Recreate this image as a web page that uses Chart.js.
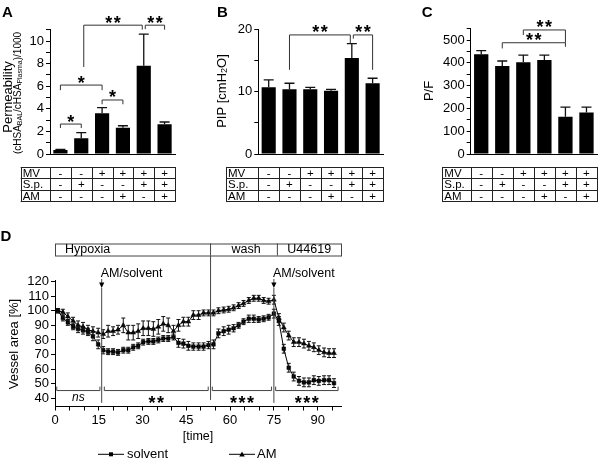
<!DOCTYPE html>
<html>
<head>
<meta charset="utf-8">
<title>Figure</title>
<script src="https://cdn.jsdelivr.net/npm/chart.js@4.4.1/dist/chart.umd.min.js"></script>
<style>
  body { margin: 0; background: #fff; }
  #fig { position: relative; width: 600px; height: 462px; overflow: hidden; }
  #fig canvas { position: absolute; }
</style>
</head>
<body>
<div id="fig">
  <canvas id="panelA" width="200" height="210" style="left:0;top:0"></canvas>
  <canvas id="panelB" width="200" height="210" style="left:200px;top:0"></canvas>
  <canvas id="panelC" width="200" height="210" style="left:400px;top:0"></canvas>
  <canvas id="panelD" width="600" height="237" style="left:0;top:225px"></canvas>
</div>
<script>
const FONT = "'Liberation Sans', Arial, Helvetica, sans-serif";
Chart.defaults.font.family = FONT;
Chart.defaults.color = '#000';

// Panels A-C: six treatment groups, table rows under the bars
const groups = ['G1', 'G2', 'G3', 'G4', 'G5', 'G6'];
const rowMV = ['-', '-', '+', '+', '+', '+'];
const rowSp = ['-', '+', '-', '-', '+', '+'];
const rowAM = ['-', '-', '-', '+', '-', '+'];

// A: permeability
const permMean = [0.35, 1.4, 3.6, 2.33, 7.8, 2.63];
const permErr = [0.06, 0.5, 0.5, 0.17, 2.8, 0.2];
const permTicks = [0, 2, 4, 6, 8, 10];

// B: PIP
const pipMean = [10.7, 10.4, 10.4, 10.15, 15.4, 11.35];
const pipErr = [1.2, 0.95, 0.3, 0.2, 2.3, 0.8];
const pipTicks = [0, 10, 20];

// C: P/F
const pfMean = [437, 386, 402, 412, 163, 182];
const pfErr = [16, 22, 32, 22, 43, 24];
const pfTicks = [0, 100, 200, 300, 400, 500];

// D: vessel area over time
const timePts = [1.0, 2.7, 4.4, 6.2, 7.9, 9.6, 11.3, 13.0, 14.8, 16.5,
  18.2, 19.9, 21.6, 23.4, 25.1, 26.8, 28.5, 30.2, 32.0, 33.7,
  35.4, 37.1, 38.8, 40.6, 42.3, 44.0, 45.7, 47.4, 49.2, 50.9,
  52.6, 54.3, 56.0, 57.8, 59.5, 61.2, 62.9, 64.6, 66.4, 68.1,
  69.8, 71.5, 73.2, 75.0, 76.7, 78.4, 80.1, 81.8, 83.6, 85.3,
  87.0, 88.7, 90.4, 92.2, 93.9, 95.6];
const solventMean = [100, 95, 92, 89, 87.5, 86.5, 85.5, 82.5, 77, 73,
  72, 72, 71.5, 73, 73, 75, 76, 78.5, 79, 79,
  80, 81, 81, 82, 78, 77.5, 76, 75.5, 75.5, 75.5,
  76.5, 77, 84.5, 86, 87, 88, 90, 92.5, 94.5, 94.5,
  94, 94.5, 95.5, 98, 93, 74, 61, 55, 52, 51,
  51, 52.5, 52, 52.5, 52.5, 50.5];
const solventErr = [1.5, 2, 2, 2, 2.5, 2.5, 2.5, 3, 3, 2.5,
  2, 2, 2, 2, 2, 2, 2, 2, 2, 2,
  2, 2, 2, 2, 3, 3, 3, 2.5, 2.5, 2.5,
  2.5, 3, 3, 3, 3, 2.5, 2, 2, 2.5, 2.5,
  2, 2, 2, 3, 3, 3, 3, 3, 3, 3,
  3, 3, 3, 3, 3, 3];
const amMean = [100, 99, 96, 93, 90, 89, 87, 86, 85, 84,
  86, 86, 87, 90, 85, 85, 86, 88, 88, 87.5,
  89, 91, 90, 86, 90, 92.5, 92.5, 97, 97, 98.5,
  98.5, 98.5, 100, 100.5, 101, 102, 103.5, 105, 107, 108.5,
  108.5, 107, 106.5, 107.5, 95, 88.5, 83, 78.5, 78.5, 77.5,
  76, 75, 73, 71.5, 71, 71];
const amErr = [1.5, 2, 2.5, 2.5, 3, 3, 3, 3, 3, 3,
  4, 3, 3, 5, 5, 5, 5, 5, 5, 5,
  5, 5, 5, 4, 4, 3, 3, 3, 3, 2,
  2, 2, 2, 2, 2, 2, 2, 2, 2, 2,
  2, 2, 2, 3, 3, 3, 3, 3, 3, 3,
  3, 3, 3, 3, 3, 3];
const timeTicks = [0, 15, 30, 45, 60, 75, 90];
const areaTicks = [40, 50, 60, 70, 80, 90, 100, 110, 120];

// Error bars from the dataset's errors array
const errorBarPlugin = {
  id: 'errorBars',
  afterDatasetsDraw(chart) {
    const ctx = chart.ctx;
    const y = chart.scales.y;
    chart.data.datasets.forEach((ds, di) => {
      if (!ds.errors) return;
      const meta = chart.getDatasetMeta(di);
      ctx.save();
      ctx.strokeStyle = '#111';
      ctx.lineWidth = ds.errorLineWidth || 1;
      meta.data.forEach((el, i) => {
        const raw = ds.data[i];
        const v = typeof raw === 'object' ? raw.y : raw;
        const e = ds.errors[i];
        const yTop = y.getPixelForValue(v + e);
        const yBot = ds.errorMode === 'up' ? el.y : y.getPixelForValue(v - e);
        const c = ds.capWidth / 2;
        ctx.beginPath();
        ctx.moveTo(el.x, yBot); ctx.lineTo(el.x, yTop);
        ctx.moveTo(el.x - c, yTop); ctx.lineTo(el.x + c, yTop);
        if (ds.errorMode !== 'up') { ctx.moveTo(el.x - c, yBot); ctx.lineTo(el.x + c, yBot); }
        ctx.stroke();
      });
      ctx.restore();
    });
  }
};

function stars(ctx, n, cx, cy) {
  ctx.save();
  ctx.fillStyle = '#000';
  ctx.font = 'bold 18px ' + FONT;
  ctx.textAlign = 'center';
  ctx.textBaseline = 'alphabetic';
  for (let k = 0; k < n; k++) ctx.fillText('*', cx + (k - (n - 1) / 2) * 8.5, cy + 10);
  ctx.restore();
}

function panelLetter(ctx, s, x, y) {
  ctx.save();
  ctx.fillStyle = '#000';
  ctx.font = 'bold 15px ' + FONT;
  ctx.textAlign = 'left';
  ctx.textBaseline = 'alphabetic';
  ctx.fillText(s, x, y);
  ctx.restore();
}

// rotated text made of parts (for subscripts)
function verticalText(ctx, parts, cx, cy) {
  ctx.save();
  ctx.translate(cx, cy);
  ctx.rotate(-Math.PI / 2);
  ctx.fillStyle = '#000';
  ctx.textBaseline = 'middle';
  ctx.textAlign = 'left';
  let total = 0;
  parts.forEach(p => { ctx.font = p.size + 'px ' + FONT; p.w = ctx.measureText(p.t).width; total += p.w; });
  let px = -total / 2;
  parts.forEach(p => {
    ctx.font = p.size + 'px ' + FONT;
    ctx.fillText(p.t, px, p.dy || 0);
    px += p.w;
  });
  ctx.restore();
}

function drawBracket(chart, br) {
  const { ctx, scales: { x, y } } = chart;
  const xa = x.getPixelForValue(br.a) + (br.da || 0);
  const xb = x.getPixelForValue(br.b) + (br.db || 0);
  const yl = y.getPixelForValue(br.y);
  ctx.beginPath();
  ctx.moveTo(xa, y.getPixelForValue(br.la));
  ctx.lineTo(xa, yl);
  ctx.lineTo(xb, yl);
  ctx.lineTo(xb, y.getPixelForValue(br.lb));
  ctx.stroke();
  stars(ctx, br.n, (xa + xb) / 2, yl - 6.5);
}

function drawTable(chart, left) {
  const { ctx, scales: { x } } = chart;
  const step = x.getPixelForValue(1) - x.getPixelForValue(0);
  const edges = [left, chart.chartArea.left];
  groups.forEach((g, i) => edges.push(x.getPixelForValue(i) + step / 2));
  const top = 167, rh = 11.35;
  const rows = [['MV', rowMV], ['S.p.', rowSp], ['AM', rowAM]];
  const right = edges[edges.length - 1];
  ctx.save();
  ctx.strokeStyle = '#222';
  ctx.lineWidth = 1;
  ctx.beginPath();
  for (let r = 0; r <= rows.length; r++) {
    const yy = Math.round(top + r * rh) + 0.5;
    ctx.moveTo(left, yy); ctx.lineTo(right, yy);
  }
  edges.forEach(ex => {
    const xx = Math.round(ex) + 0.5;
    ctx.moveTo(xx, top); ctx.lineTo(xx, top + rows.length * rh + 1);
  });
  ctx.stroke();
  ctx.fillStyle = '#000';
  ctx.font = '11.5px ' + FONT;
  ctx.textBaseline = 'middle';
  rows.forEach(([name, vals], r) => {
    const cy = top + (r + 0.5) * rh + 1;
    ctx.textAlign = 'left';
    ctx.fillText(name, left + 2, cy);
    ctx.textAlign = 'center';
    vals.forEach((s, i) => ctx.fillText(s, x.getPixelForValue(i), cy));
  });
  ctx.restore();
}

function makeBarPanel(canvasId, cfg) {
  const extras = {
    id: 'extras',
    afterDraw(chart) {
      const ctx = chart.ctx;
      ctx.save();
      ctx.strokeStyle = '#333';
      ctx.lineWidth = 1;
      cfg.brackets.forEach(br => drawBracket(chart, br));
      ctx.restore();
      drawTable(chart, cfg.tableLeft);
      cfg.title(ctx);
      panelLetter(ctx, cfg.letter, cfg.letterX, 16.5);
    }
  };
  return new Chart(document.getElementById(canvasId), {
    type: 'bar',
    data: {
      labels: groups,
      datasets: [{
        data: cfg.mean,
        errors: cfg.err,
        errorMode: 'up',
        capWidth: 10,
        errorLineWidth: 1.3,
        backgroundColor: '#000',
        borderWidth: 0,
        barPercentage: 0.68,
        categoryPercentage: 1,
      }],
    },
    options: {
      responsive: false,
      animation: false,
      devicePixelRatio: 1,
      layout: { padding: cfg.padding },
      plugins: { legend: { display: false }, tooltip: { enabled: false } },
      scales: {
        x: {
          grid: { display: false },
          ticks: { display: false },
          border: { color: '#000', width: 1 },
          afterFit: (s) => { s.height = 0; },
        },
        y: {
          min: 0,
          max: cfg.max,
          ticks: {
            stepSize: cfg.step,
            autoSkip: false,
            padding: 2,
            font: { size: 13 },
            color: '#000',
            callback: (v) => (cfg.labels.includes(v) ? String(v) : ''),
          },
          grid: { drawOnChartArea: false, tickLength: 4, tickColor: '#000' },
          border: { color: '#000', width: 1 },
          afterFit: (s) => { s.width = cfg.yWidth; },
        },
      },
    },
    plugins: [errorBarPlugin, extras],
  });
}

// Panel A
makeBarPanel('panelA', {
  mean: permMean, err: permErr, labels: permTicks,
  max: 11, step: 1, yWidth: 50,
  padding: { top: 29.7, bottom: 56, left: 0, right: 25 },
  tableLeft: 20.7, letter: 'A', letterX: 2,
  brackets: [
    { a: 0, b: 1, y: 2.65, la: 2.3, lb: 2.3, n: 1 },
    { a: 0, b: 2, y: 6.1, la: 5.65, lb: 5.65, n: 1 },
    { a: 2, b: 3, y: 4.78, la: 4.4, lb: 4.4, n: 1 },
    { a: 1, b: 4, y: 11.4, la: 7.7, lb: 11.0, n: 2, da: 2.5, db: -1.5 },
    { a: 4, b: 5, y: 11.4, la: 11.05, lb: 11.0, n: 2, da: 1.5 },
  ],
  title: (ctx) => {
    verticalText(ctx, [{ t: 'Permeability', size: 13 }], 8.5, 97);
    verticalText(ctx, [
      { t: '(cHSA', size: 10 },
      { t: 'BAL', size: 7, dy: 2.5 },
      { t: '/cHSA', size: 10 },
      { t: 'Plasma', size: 7, dy: 2.5 },
      { t: ')/1000', size: 10 },
    ], 18, 93);
  },
});

// Panel B
makeBarPanel('panelB', {
  mean: pipMean, err: pipErr, labels: pipTicks,
  max: 20, step: 5, yWidth: 58.3,
  padding: { top: 29.3, bottom: 56, left: 0, right: 17 },
  tableLeft: 26, letter: 'B', letterX: 17,
  brackets: [
    { a: 1, b: 4, y: 19.1, la: 13.5, lb: 17.8, n: 2, db: -1.5 },
    { a: 4, b: 5, y: 19.1, la: 18.5, lb: 13.5, n: 2, da: 1.5 },
  ],
  title: (ctx) => {
    verticalText(ctx, [
      { t: 'PIP [cmH', size: 13 },
      { t: '2', size: 9, dy: 3 },
      { t: 'O]', size: 13 },
    ], 22, 91);
  },
});

// Panel C
makeBarPanel('panelC', {
  mean: pfMean, err: pfErr, labels: pfTicks,
  max: 550, step: 50, yWidth: 70.7,
  padding: { top: 28.6, bottom: 56, left: 0, right: 3 },
  tableLeft: 42.3, letter: 'C', letterX: 21.7,
  brackets: [
    { a: 2, b: 4, y: 544, la: 522, lb: 488, n: 2 },
    { a: 1, b: 4, y: 488, la: 463, lb: 470, n: 2 },
  ],
  title: (ctx) => {
    verticalText(ctx, [{ t: 'P/F', size: 13 }], 29, 91);
  },
});

// Panel D extras: treatment bar, arrows, significance, legend
const dExtras = {
  id: 'dExtras',
  afterDraw(chart) {
    const { ctx, chartArea, scales: { x, y } } = chart;
    const X = (t) => x.getPixelForValue(t);
    const Y = (v) => y.getPixelForValue(v);
    const seg = (x1, y1, x2, y2) => { ctx.beginPath(); ctx.moveTo(x1, y1); ctx.lineTo(x2, y2); ctx.stroke(); };
    ctx.save();
    ctx.strokeStyle = '#444';
    ctx.fillStyle = '#000';
    ctx.lineWidth = 1;

    // treatment bar on top
    const bTop = 18.5, bBot = 30.5;
    ctx.strokeRect(X(0) + 0.5, bTop + 0.5, chartArea.right - X(0), bBot - bTop);
    seg(X(53.3), bTop, X(53.3), bBot);
    seg(X(76.2), bTop, X(76.2), bBot);
    ctx.font = '12.5px ' + FONT;
    ctx.textBaseline = 'middle';
    ctx.textAlign = 'left';
    ctx.fillText('Hypoxia', X(0) + 10, 25);
    ctx.textAlign = 'center';
    ctx.fillText('wash', X(65.5), 25);
    ctx.fillText('U44619', (X(76.2) + chartArea.right) / 2, 25);

    // phase separators
    seg(X(53.3), bBot, X(53.3), Y(39));
    [16, 75].forEach((t) => {
      const tip = Y(115.5);
      seg(X(t), tip, X(t), Y(37));
      seg(X(t), tip - 9, X(t), tip - 5);
      ctx.beginPath();
      ctx.moveTo(X(t) - 2.6, tip - 5.5);
      ctx.lineTo(X(t) + 2.6, tip - 5.5);
      ctx.lineTo(X(t), tip);
      ctx.closePath();
      ctx.fill();
      ctx.font = '12.5px ' + FONT;
      ctx.textAlign = 'left';
      ctx.textBaseline = 'alphabetic';
      ctx.fillText('AM/solvent', X(t) - 1, 52.3);
    });

    // significance brackets
    const sig = [[0.6, 15.4, 0], [16.9, 52.5, 2], [53.9, 74.2, 3], [75.6, 97, 3]];
    sig.forEach(([a, b, n]) => {
      ctx.beginPath();
      ctx.moveTo(X(a), Y(48.1));
      ctx.lineTo(X(a), Y(45.4));
      ctx.lineTo(X(b), Y(45.4));
      ctx.lineTo(X(b), Y(48.1));
      ctx.stroke();
      if (n === 0) {
        ctx.font = 'italic 12px ' + FONT;
        ctx.textAlign = 'center';
        ctx.textBaseline = 'middle';
        ctx.fillText('ns', X((a + b) / 2), Y(40.6));
      } else {
        stars(ctx, n, X((a + b) / 2), Y(39.7));
      }
    });

    // axis titles
    ctx.font = '12.5px ' + FONT;
    ctx.textAlign = 'center';
    ctx.textBaseline = 'middle';
    ctx.fillText('[time]', 198, 211.7);
    verticalText(ctx, [{ t: 'Vessel area [%]', size: 13 }], 14.8, 119);

    // legend
    const ly = 229.3;
    ctx.strokeStyle = '#000';
    seg(98, ly, 124, ly);
    ctx.fillRect(111 - 2, ly - 2, 4, 4);
    seg(229, ly, 255, ly);
    ctx.beginPath();
    ctx.moveTo(242 - 2.8, ly + 2.2);
    ctx.lineTo(242 + 2.8, ly + 2.2);
    ctx.lineTo(242, ly - 2.8);
    ctx.closePath();
    ctx.fill();
    ctx.font = '13px ' + FONT;
    ctx.textAlign = 'left';
    ctx.fillText('solvent', 127, ly + 0.5);
    ctx.fillText('AM', 257, ly + 0.5);
    ctx.restore();

    panelLetter(ctx, 'D', 0.5, 16);
  },
};

new Chart(document.getElementById('panelD'), {
  type: 'line',
  data: {
    datasets: [
      {
        label: 'solvent',
        data: timePts.map((t, i) => ({ x: t, y: solventMean[i] })),
        errors: solventErr,
        errorMode: 'both',
        capWidth: 4,
        borderColor: '#000',
        borderWidth: 1,
        pointStyle: 'rect',
        pointRadius: 2.6,
        pointBackgroundColor: '#000',
        pointBorderColor: '#000',
        pointBorderWidth: 0.5,
        tension: 0,
      },
      {
        label: 'AM',
        data: timePts.map((t, i) => ({ x: t, y: amMean[i] })),
        errors: amErr,
        errorMode: 'both',
        capWidth: 4,
        borderColor: '#000',
        borderWidth: 1,
        pointStyle: 'triangle',
        pointRadius: 2.8,
        pointBackgroundColor: '#000',
        pointBorderColor: '#000',
        pointBorderWidth: 0.5,
        tension: 0,
      },
    ],
  },
  options: {
    responsive: false,
    animation: false,
    devicePixelRatio: 1,
    layout: { padding: { top: 55, left: 0, right: 259, bottom: 30.5 } },
    plugins: { legend: { display: false }, tooltip: { enabled: false } },
    scales: {
      x: {
        type: 'linear',
        min: 0,
        max: 98,
        ticks: {
          stepSize: 5,
          includeBounds: false,
          autoSkip: false,
          maxRotation: 0,
          padding: 2,
          font: { size: 13 },
          color: '#000',
          callback: (v) => (timeTicks.includes(v) ? String(v) : ''),
        },
        grid: { drawOnChartArea: false, tickLength: 4, tickColor: '#000' },
        border: { color: '#000', width: 1 },
        afterFit: (s) => { s.height = 25; },
      },
      y: {
        min: 34.5,
        max: 121,
        ticks: {
          stepSize: 10,
          includeBounds: false,
          autoSkip: false,
          padding: 2,
          font: { size: 13 },
          color: '#000',
          callback: (v) => (areaTicks.includes(v) ? String(v) : ''),
        },
        grid: { drawOnChartArea: false, tickLength: 4, tickColor: '#000' },
        border: { color: '#000', width: 1 },
        afterFit: (s) => { s.width = 55; },
      },
    },
  },
  plugins: [errorBarPlugin, dExtras],
});
</script>
</body>
</html>
